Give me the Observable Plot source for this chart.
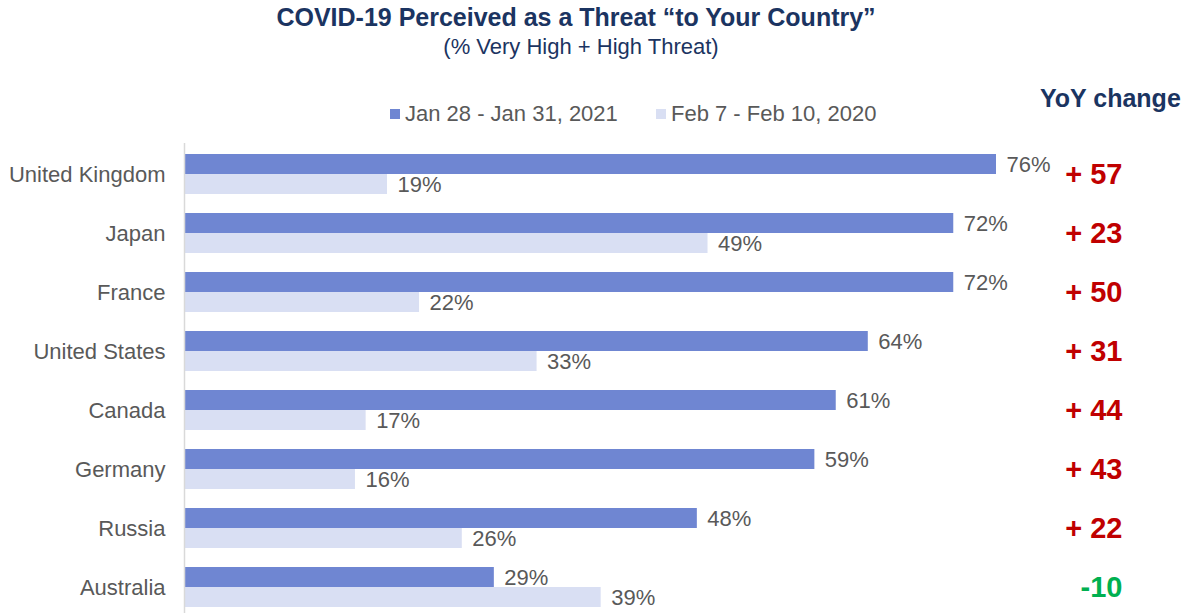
<!DOCTYPE html>
<html>
<head>
<meta charset="utf-8">
<script src="https://cdn.jsdelivr.net/npm/d3@7"></script>
<script src="https://cdn.jsdelivr.net/npm/@observablehq/plot@0.6"></script>
<style>
  html, body { margin: 0; padding: 0; background: #fff; }
  body { width: 1188px; height: 613px; position: relative; overflow: hidden; font-family: "Liberation Sans", Arial, sans-serif; }
  #chart { position: absolute; left: 0; top: 0; }
  .abs { position: absolute; white-space: nowrap; }
  #title { left: 0; width: 1152px; top: 3px; text-align: center; font-weight: bold; font-size: 25px; color: #1B3461; }
  #subtitle { left: 0; width: 1162px; top: 34px; text-align: center; font-size: 22px; color: #1B3461; }
  #yoy { left: 1040px; top: 84px; font-weight: bold; font-size: 25px; color: #1B3461; }
  .leg { top: 101px; font-size: 22px; color: #595959; display: flex; align-items: center; }
  .sw { width: 10px; height: 10px; display: inline-block; margin-right: 5px; }
</style>
</head>
<body>
<div id="chart"></div>
<div id="title" class="abs">COVID-19 Perceived as a Threat “to Your Country”</div>
<div id="subtitle" class="abs">(% Very High + High Threat)</div>
<div id="legend"></div>
<div id="yoy" class="abs">YoY change</div>
<script>
const countries = ["United Kingdom", "Japan", "France", "United States", "Canada", "Germany", "Russia", "Australia"];
const series = ["Jan 28 - Jan 31, 2021", "Feb 7 - Feb 10, 2020"];
const values2021 = [76, 72, 72, 64, 61, 59, 48, 29];
const values2020 = [19, 49, 22, 33, 17, 16, 26, 39];
const yoyChange = [57, 23, 50, 31, 44, 43, 22, -10];
const colors = ["#6F86D2", "#D9DFF3"];

const rows = countries.map((c, i) => ({country: c, v21: values2021[i], v20: values2020[i], yoy: yoyChange[i]}));

// legend
const legend = document.getElementById("legend");
const legX = [390, 656];
series.forEach((s, i) => {
  const d = document.createElement("div");
  d.className = "abs leg";
  d.style.left = legX[i] + "px";
  d.innerHTML = `<span class="sw" style="background:${colors[i]}"></span>${s}`;
  legend.appendChild(d);
});

const plot = Plot.plot({
  width: 1188,
  height: 613,
  marginLeft: 184,
  marginRight: 192,
  marginTop: 153,
  marginBottom: 6,
  style: {fontFamily: "Liberation Sans, Arial, sans-serif", fontSize: "22px", color: "#595959", background: "transparent"},
  x: {domain: [0, 76], axis: null},
  y: {domain: countries, paddingInner: 0.3237, paddingOuter: 0, label: null},
  marks: [
    Plot.axisY({tickSize: 0, tickPadding: 19, fontSize: 22, fill: "#595959", label: null}),
    Plot.barX(rows, {x: "v21", y: "country", fill: colors[0], insetBottom: 20, insetTop: 0}),
    Plot.barX(rows, {x: "v20", y: "country", fill: colors[1], insetTop: 20, insetBottom: 0}),
    Plot.ruleX([0], {stroke: "#D9D9D9", strokeWidth: 1.5, insetTop: -10, insetBottom: -6}),
    Plot.text(rows, {x: "v21", y: "country", text: d => d.v21 + "%", dy: -10, dx: 10, textAnchor: "start", fill: "#595959", fontSize: 22}),
    Plot.text(rows, {x: "v20", y: "country", text: d => d.v20 + "%", dy: 10, dx: 10, textAnchor: "start", fill: "#595959", fontSize: 22}),
    Plot.text(rows, {y: "country", frameAnchor: "right", dx: 126, textAnchor: "end",
      text: d => d.yoy > 0 ? "+ " + d.yoy : String(d.yoy),
      fill: d => d.yoy > 0 ? "#C00000" : "#00B050", fontWeight: "bold", fontSize: 29})
  ]
});
document.getElementById("chart").appendChild(plot);
</script>
</body>
</html>
